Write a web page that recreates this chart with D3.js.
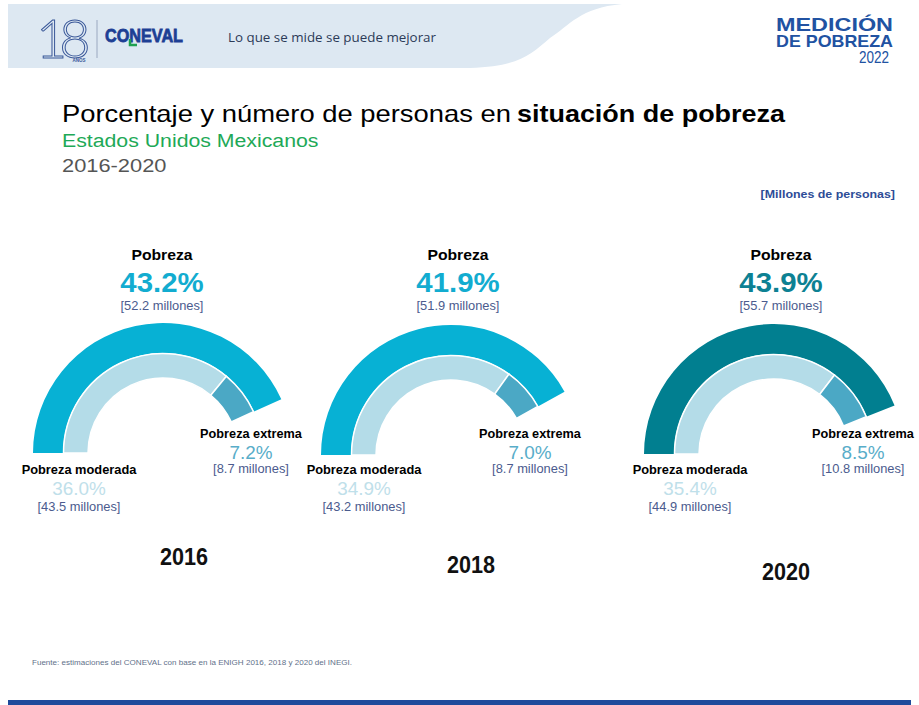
<!DOCTYPE html>
<html>
<head>
<meta charset="utf-8">
<script src="https://cdn.jsdelivr.net/npm/d3@7"></script>
<style>
  body { margin: 0; background: #fff; }
  text { font-family: "Liberation Sans", Arial, sans-serif; }
</style>
</head>
<body>
<svg id="chart" width="919" height="705"></svg>
<script>
// data
var years = ["2016", "2018", "2020"];
var pobreza = [43.2, 41.9, 43.9];
var pobrezaMill = [52.2, 51.9, 55.7];
var moderada = [36.0, 34.9, 35.4];
var moderadaMill = [43.5, 43.2, 44.9];
var extrema = [7.2, 7.0, 8.5];
var extremaMill = [8.7, 8.7, 10.8];

// layout of the three gauges
var gaugeCx = [163, 451, 774];
var gaugeCy = [453, 455, 454];
var titleX = [162, 458, 781];
var extX = [251, 530, 863];
var modX = [79, 364, 690];
var yearX = [184, 471, 786];
var yearY = [565, 573, 580];
var outerColor = ["#07b1d4", "#07b1d4", "#017f90"];
var pctColor = ["#12acd0", "#12acd0", "#0d8193"];

var svg = d3.select("#chart");

function fmt(v) { return v.toFixed(1) + "%"; }

function label(g, x, y, str, o) {
    return g.append("text")
        .attr("transform", "translate(" + x + "," + y + ") scale(" + (o.sx || 1) + ",1)")
        .attr("text-anchor", o.anchor || "middle")
        .attr("font-size", o.size)
        .attr("font-weight", o.weight || "normal")
        .attr("fill", o.color || "#000")
        .text(str);
}

// ---- header ----
svg.append("path")
    .attr("d", "M8,4 H622 C580,8 570,25 550,38 C530,55 520,66 470,68 H8 Z")
    .attr("fill", "#dde8f2");

svg.append("text")
    .attr("x", 36).attr("y", 58)
    .attr("font-size", 54)
    .attr("font-weight", 300)
    .attr("letter-spacing", -8)
    .attr("fill", "none")
    .attr("stroke", "#3a5899")
    .attr("stroke-width", 1)
    .style("font-family", "Lato, sans-serif")
    .text("18");
label(svg, 79, 62, "AÑOS", {size: 4.5, color: "#3a5899", weight: "bold"});
svg.append("line")
    .attr("x1", 97).attr("x2", 97).attr("y1", 20).attr("y2", 58)
    .attr("stroke", "#9aa8c0").attr("stroke-width", 1);

svg.append("text")
    .attr("x", 105).attr("y", 42)
    .attr("font-size", 19)
    .attr("font-weight", "bold")
    .attr("textLength", 78)
    .attr("lengthAdjust", "spacingAndGlyphs")
    .attr("fill", "#1d3f94")
    .attr("stroke", "#1d3f94").attr("stroke-width", 0.8)
    .text("CONEVAL");
svg.append("path")
    .attr("d", "M130,39 v6 h7")
    .attr("fill", "none").attr("stroke", "#1fa050").attr("stroke-width", 2.5);

svg.append("text")
    .attr("x", 228).attr("y", 42)
    .attr("font-size", 13)
    .attr("textLength", 208)
    .attr("lengthAdjust", "spacingAndGlyphs")
    .attr("fill", "#2c3b58")
    .style("font-family", "'Open Sans', sans-serif")
    .text("Lo que se mide se puede mejorar");

svg.append("text")
    .attr("x", 893).attr("y", 31).attr("text-anchor", "end")
    .attr("font-size", 19).attr("font-weight", "bold")
    .attr("textLength", 117).attr("lengthAdjust", "spacingAndGlyphs")
    .attr("fill", "#2152a2")
    .text("MEDICIÓN");
svg.append("text")
    .attr("x", 893).attr("y", 47).attr("text-anchor", "end")
    .attr("font-size", 17).attr("font-weight", "bold")
    .attr("textLength", 117).attr("lengthAdjust", "spacingAndGlyphs")
    .attr("fill", "#2152a2")
    .text("DE POBREZA");
svg.append("text")
    .attr("x", 889).attr("y", 63).attr("text-anchor", "end")
    .attr("font-size", 16)
    .attr("textLength", 30).attr("lengthAdjust", "spacingAndGlyphs")
    .attr("fill", "#2152a2")
    .text("2022");

// ---- titles ----
svg.append("text")
    .attr("x", 62).attr("y", 122)
    .attr("font-size", 24)
    .attr("textLength", 449).attr("lengthAdjust", "spacingAndGlyphs")
    .text("Porcentaje y número de personas en");
svg.append("text")
    .attr("x", 517).attr("y", 122)
    .attr("font-size", 24).attr("font-weight", "bold")
    .attr("textLength", 268).attr("lengthAdjust", "spacingAndGlyphs")
    .text("situación de pobreza");
label(svg, 62, 147, "Estados Unidos Mexicanos", {size: 19, sx: 1.12, anchor: "start", color: "#1ea957"});
label(svg, 62, 172, "2016-2020", {size: 19, sx: 1.15, anchor: "start", color: "#555"});
label(svg, 895, 198, "[Millones de personas]", {size: 11.5, sx: 1.08, anchor: "end", weight: "bold", color: "#2d4c97"});

// ---- gauges ----
var angle = d3.scaleLinear().domain([0, 100]).range([-Math.PI / 2, 3 * Math.PI / 2]);
var outerArc = d3.arc().innerRadius(100).outerRadius(130);
var innerArc = d3.arc().innerRadius(75).outerRadius(99.5);

years.forEach(function(yr, i) {
    var g = svg.append("g").attr("class", "gauge");
    var arcs = g.append("g").attr("transform", "translate(" + gaugeCx[i] + "," + gaugeCy[i] + ")");

    arcs.append("path")
        .attr("d", outerArc({startAngle: angle(0), endAngle: angle(pobreza[i])}))
        .attr("fill", outerColor[i]);
    arcs.append("path")
        .attr("d", innerArc({startAngle: angle(0), endAngle: angle(moderada[i])}))
        .attr("fill", "#b4dce8")
        .attr("stroke", "#fff").attr("stroke-width", 1.5);
    arcs.append("path")
        .attr("d", innerArc({startAngle: angle(moderada[i]), endAngle: angle(moderada[i] + extrema[i])}))
        .attr("fill", "#4ba8c5")
        .attr("stroke", "#fff").attr("stroke-width", 1.5);

    label(g, titleX[i], 260, "Pobreza", {size: 15, sx: 1.05, weight: "bold"});
    label(g, titleX[i], 292, fmt(pobreza[i]), {size: 28, sx: 1.05, weight: "bold", color: pctColor[i]});
    label(g, titleX[i], 310, "[" + pobrezaMill[i] + " millones]", {size: 12.5, sx: 1.03, color: "#4b5b8e"});

    label(g, extX[i], 438, "Pobreza extrema", {size: 12, sx: 1.06, weight: "bold"});
    label(g, extX[i], 459, fmt(extrema[i]), {size: 18, sx: 1.05, color: "#58adc9"});
    label(g, extX[i], 473, "[" + extremaMill[i] + " millones]", {size: 12.5, sx: 1.03, color: "#4b5b8e"});

    label(g, modX[i], 474, "Pobreza moderada", {size: 12, sx: 1.07, weight: "bold"});
    label(g, modX[i], 495, fmt(moderada[i]), {size: 18, sx: 1.05, color: "#bfe0ea"});
    label(g, modX[i], 511, "[" + moderadaMill[i] + " millones]", {size: 12.5, sx: 1.03, color: "#4b5b8e"});

    label(g, yearX[i], yearY[i], yr, {size: 24, sx: 0.9, weight: "bold", color: "#111"});
});

// ---- footer ----
svg.append("text")
    .attr("x", 32).attr("y", 665)
    .attr("font-size", 7.5)
    .attr("textLength", 320).attr("lengthAdjust", "spacingAndGlyphs")
    .attr("fill", "#62718a")
    .text("Fuente: estimaciones del CONEVAL con base en la ENIGH 2016, 2018 y 2020 del INEGI.");
svg.append("rect")
    .attr("x", 8).attr("y", 700).attr("width", 903).attr("height", 5)
    .attr("fill", "#1f4a9b");
</script>
</body>
</html>
